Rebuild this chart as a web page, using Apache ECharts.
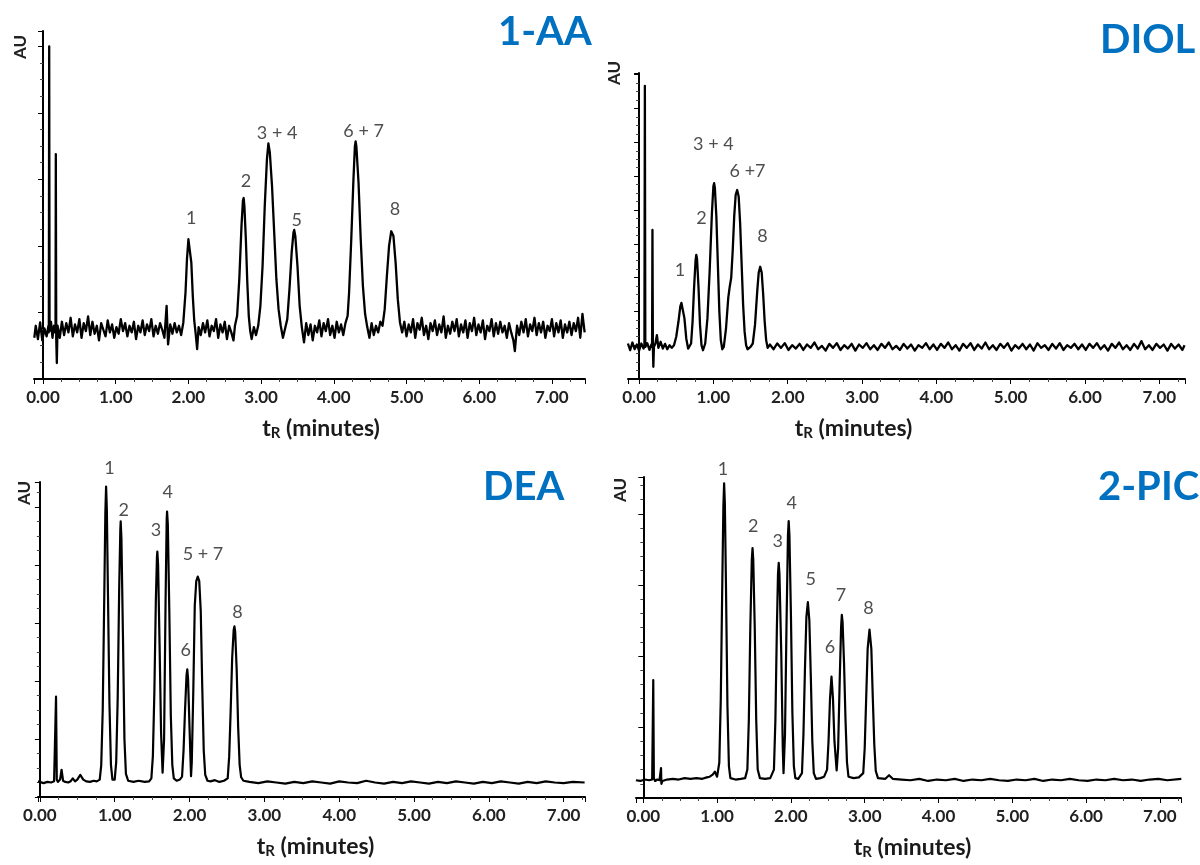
<!DOCTYPE html>
<html>
<head>
<meta charset="utf-8">
<script src="https://cdn.jsdelivr.net/npm/echarts@6/dist/echarts.min.js"></script>
<style>html,body{margin:0;padding:0;background:#fff}#c{width:1200px;height:865px}</style>
</head>
<body>
<div id="c"></div>
<script>
// ---------- DATA ----------
const panelTitles = ['1-AA', 'DIOL', 'DEA', '2-PIC'];
const yAxisName = 'AU';
const xAxisTitle = ['t', 'R', ' (minutes)'];

// 1-AA chromatogram: [time (min), signal (AU divisions)]
const aaTrace = [
[-0.12,0.62],[-0.10,0.80],[-0.07,0.60],[-0.04,0.85],[-0.01,0.58],[0.02,0.76],[0.05,0.64],[0.075,0.80],
[0.08,0.70],[0.085,5.00],[0.09,0.72],
[0.11,0.86],[0.13,0.62],[0.15,0.80],[0.165,0.70],
[0.172,0.78],[0.176,3.38],[0.182,0.60],[0.19,0.24],[0.20,0.80],
[0.23,0.62],[0.26,0.86],[0.29,0.66],[0.32,0.84],[0.35,0.70],[0.38,0.92],[0.41,0.64],[0.44,0.82],[0.47,0.70],[0.50,0.90],
[0.53,0.62],[0.56,0.84],[0.59,0.72],[0.62,0.94],[0.65,0.66],[0.68,0.86],[0.71,0.68],[0.74,0.80],[0.77,0.58],[0.80,0.84],
[0.83,0.74],[0.86,0.64],[0.89,0.88],[0.92,0.70],[0.95,0.82],[0.98,0.62],[1.01,0.78],[1.04,0.68],[1.07,0.90],[1.10,0.72],
[1.13,0.84],[1.16,0.64],[1.19,0.80],[1.22,0.70],[1.25,0.86],[1.28,0.60],[1.31,0.80],[1.34,0.70],[1.37,0.88],[1.40,0.66],
[1.43,0.82],[1.46,0.72],[1.49,0.90],[1.52,0.64],[1.55,0.80],[1.58,0.68],[1.61,0.84],[1.64,0.74],[1.67,0.62],[1.70,1.10],
[1.72,0.52],[1.75,0.82],[1.78,0.68],[1.81,0.84],[1.84,0.70],[1.87,0.80],
[1.90,0.66],[1.93,0.85],[1.96,1.30],[1.98,1.80],[2.00,2.10],[2.01,2.13],[2.02,2.08],[2.04,1.75],[2.06,1.25],[2.08,0.88],[2.10,0.68],[2.12,0.45],[2.14,0.78],
[2.17,0.66],[2.20,0.84],[2.23,0.70],[2.26,0.88],[2.29,0.64],[2.32,0.80],[2.35,0.72],[2.38,0.90],[2.41,0.62],[2.44,0.82],
[2.47,0.70],[2.50,0.86],[2.53,0.60],[2.56,0.80],[2.59,0.70],[2.62,0.58],
[2.64,0.80],[2.67,0.95],[2.70,1.50],[2.73,2.30],[2.75,2.68],[2.76,2.72],[2.77,2.60],[2.79,2.10],[2.81,1.45],[2.83,0.95],[2.85,0.72],[2.87,0.60],[2.90,0.78],[2.93,0.66],
[2.96,0.80],[2.99,1.10],[3.02,1.70],[3.05,2.60],[3.08,3.30],[3.10,3.54],[3.12,3.40],[3.15,2.90],[3.18,2.20],[3.21,1.50],[3.24,1.05],[3.27,0.80],[3.30,0.62],[3.33,0.76],
[3.36,0.90],[3.39,1.35],[3.42,1.90],[3.445,2.20],[3.455,2.24],[3.47,2.15],[3.50,1.70],[3.53,1.10],[3.56,0.78],[3.59,0.55],[3.62,0.84],
[3.65,0.66],[3.68,0.82],[3.71,0.58],[3.74,0.80],[3.77,0.70],[3.80,0.88],[3.83,0.64],[3.86,0.84],[3.89,0.72],[3.92,0.90],
[3.95,0.66],[3.98,0.80],[4.01,0.62],[4.04,0.86],[4.07,0.70],[4.10,0.82],[4.13,0.66],[4.16,0.84],
[4.19,0.95],[4.21,1.30],[4.24,2.10],[4.27,3.00],[4.29,3.50],[4.30,3.57],[4.31,3.50],[4.34,2.95],[4.37,2.10],[4.40,1.40],[4.43,0.98],[4.46,0.78],[4.49,0.62],
[4.52,0.84],[4.55,0.66],[4.58,0.80],[4.61,0.70],[4.64,0.86],
[4.67,0.80],[4.70,1.05],[4.73,1.55],[4.76,2.00],[4.79,2.22],[4.80,2.24],[4.82,2.15],[4.85,1.75],[4.88,1.20],[4.91,0.85],[4.94,0.70],
[4.97,0.86],[5.00,0.64],[5.03,0.82],[5.06,0.70],[5.09,0.90],[5.12,0.62],[5.15,0.84],[5.18,0.74],[5.21,0.92],[5.24,0.66],
[5.27,0.80],[5.30,0.60],[5.33,0.84],[5.36,0.72],[5.39,0.88],[5.42,0.66],[5.45,0.82],[5.48,0.70],[5.51,0.94],[5.54,0.62],
[5.57,0.80],[5.60,0.68],[5.63,0.86],[5.66,0.72],[5.69,0.90],[5.72,0.64],[5.75,0.82],[5.78,0.70],[5.81,0.88],[5.84,0.62],
[5.87,0.84],[5.90,0.72],[5.93,0.92],[5.96,0.66],[5.99,0.82],[6.02,0.70],[6.05,0.88],[6.08,0.60],[6.11,0.80],[6.14,0.72],
[6.17,0.90],[6.20,0.64],[6.23,0.84],[6.26,0.68],[6.29,0.86],[6.32,0.70],[6.35,0.80],[6.38,0.62],[6.41,0.84],[6.44,0.70],
[6.47,0.58],[6.49,0.42],[6.52,0.80],[6.55,0.66],[6.58,0.86],[6.61,0.70],[6.64,0.90],[6.67,0.64],[6.70,0.82],[6.73,0.72],
[6.76,0.92],[6.79,0.66],[6.82,0.84],[6.85,0.70],[6.88,0.86],[6.91,0.62],[6.94,0.80],[6.97,0.72],[7.00,0.90],[7.03,0.64],
[7.06,0.84],[7.09,0.70],[7.12,0.88],[7.15,0.62],[7.18,0.82],[7.21,0.70],[7.24,0.86],[7.27,0.66],[7.30,0.84],[7.33,0.72],
[7.36,0.92],[7.39,0.62],[7.42,0.98],[7.45,0.70]
];
const aaPeakLabels = [['1',2.04,2.42],['2',2.79,2.98],['3 + 4',3.22,3.69],['5',3.49,2.39],['6 + 7',4.41,3.73],['8',4.84,2.55]];

// DIOL chromatogram
const diolTrace = [
[-0.15,1.05],[-0.12,0.85],[-0.09,1.08],[-0.06,0.88],[-0.03,1.02],[0.00,0.84],[0.03,1.05],[0.06,0.90],
[0.072,0.98],[0.078,8.67],[0.084,0.95],
[0.11,1.06],[0.14,0.86],[0.165,1.02],
[0.175,0.95],[0.18,4.41],[0.186,0.95],[0.192,0.36],[0.20,0.95],
[0.22,1.05],[0.24,1.30],[0.26,0.92],[0.29,1.10],[0.32,0.90],[0.35,1.04],[0.38,0.88],[0.41,1.00],[0.44,0.92],
[0.47,1.00],[0.50,1.25],[0.53,1.70],[0.555,2.15],[0.57,2.25],[0.58,2.29],[0.595,2.20],[0.61,1.80],[0.635,1.20],[0.66,0.90],[0.68,0.88],
[0.70,1.05],[0.72,1.70],[0.74,2.70],[0.76,3.50],[0.77,3.67],[0.78,3.55],[0.80,2.70],[0.82,1.60],[0.84,1.00],[0.86,0.85],
[0.89,1.05],[0.92,1.80],[0.95,3.20],[0.98,4.90],[1.00,5.70],[1.01,5.79],[1.02,5.65],[1.04,4.80],[1.06,3.40],[1.08,2.00],[1.10,1.15],[1.12,0.88],
[1.14,0.95],[1.17,1.50],[1.20,2.40],[1.22,2.73],[1.24,3.00],[1.26,3.80],[1.28,4.80],[1.30,5.45],[1.32,5.59],[1.34,5.40],[1.36,4.60],[1.38,3.40],[1.40,2.20],[1.42,1.40],[1.44,1.00],[1.46,0.88],[1.50,0.95],
[1.53,1.05],[1.56,1.60],[1.59,2.60],[1.61,3.15],[1.63,3.32],[1.65,3.15],[1.67,2.50],[1.69,1.70],[1.71,1.15],[1.73,0.92],
[1.76,1.02],[1.81,0.88],[1.86,1.05],[1.91,0.92],[1.96,1.06],[2.01,0.86],[2.06,1.00],[2.11,0.90],[2.16,1.04],[2.21,0.86],
[2.26,1.02],[2.31,0.92],[2.36,1.08],[2.41,0.88],[2.46,0.98],[2.51,0.84],[2.56,1.04],[2.61,0.92],[2.66,1.06],[2.71,0.86],
[2.76,1.00],[2.81,0.90],[2.86,1.04],[2.91,0.84],[2.96,1.02],[3.01,0.92],[3.06,1.06],[3.11,0.88],[3.16,1.00],[3.21,0.86],
[3.26,1.04],[3.31,0.92],[3.36,1.08],[3.41,0.88],[3.46,0.98],[3.51,0.86],[3.56,1.04],[3.61,0.90],[3.66,1.02],[3.71,0.84],
[3.76,1.00],[3.81,0.92],[3.86,1.06],[3.91,0.88],[3.96,1.02],[4.01,0.86],[4.06,1.04],[4.11,0.92],[4.16,1.08],[4.21,0.88],
[4.26,1.00],[4.31,0.84],[4.36,1.04],[4.41,0.92],[4.46,1.06],[4.51,0.86],[4.56,1.02],[4.61,0.90],[4.66,1.08],[4.71,0.88],
[4.76,1.00],[4.81,0.86],[4.86,1.04],[4.91,0.92],[4.96,1.06],[5.01,0.84],[5.06,1.00],[5.11,0.90],[5.16,1.04],[5.21,0.88],
[5.26,1.02],[5.31,0.84],[5.36,1.06],[5.41,0.92],[5.46,1.00],[5.51,0.86],[5.56,1.04],[5.61,0.90],[5.66,1.06],[5.71,0.86],
[5.76,1.00],[5.81,0.92],[5.86,1.04],[5.91,0.88],[5.96,1.02],[6.01,0.86],[6.06,1.04],[6.11,0.92],[6.16,1.06],[6.21,0.88],
[6.26,1.00],[6.31,0.84],[6.36,1.04],[6.41,0.92],[6.46,1.08],[6.51,0.88],[6.56,1.00],[6.61,0.86],[6.66,1.04],[6.71,0.90],
[6.76,1.12],[6.81,0.88],[6.86,1.00],[6.91,0.86],[6.96,1.04],[7.01,0.92],[7.06,1.02],[7.11,0.84],[7.16,1.04],[7.21,0.90],
[7.26,1.02],[7.31,0.86],[7.34,1.00]
];
const diolPeakLabels = [['1',0.55,3.22],['2',0.84,4.75],['3 + 4',1.00,6.95],['6 +7',1.46,6.16],['8',1.66,4.21]];

// DEA chromatogram
const deaTrace = [
[-0.025,0.27],[0.05,0.24],[0.10,0.26],[0.15,0.25],[0.19,0.27],
[0.205,0.30],[0.216,1.73],[0.226,0.30],[0.24,0.26],
[0.27,0.30],[0.29,0.47],[0.31,0.28],[0.34,0.26],[0.38,0.25],[0.41,0.27],[0.44,0.32],[0.47,0.27],[0.50,0.30],[0.54,0.38],
[0.58,0.30],[0.62,0.27],[0.67,0.26],[0.72,0.28],[0.76,0.27],
[0.80,0.30],[0.82,0.55],[0.84,1.50],[0.86,3.40],[0.875,4.90],[0.885,5.35],[0.895,4.95],[0.91,3.50],[0.93,1.60],[0.95,0.55],[0.97,0.30],
[1.00,0.30],[1.02,0.60],[1.04,1.70],[1.06,3.60],[1.075,4.60],[1.08,4.75],[1.09,4.45],[1.11,2.80],[1.13,1.00],[1.15,0.40],[1.18,0.28],
[1.25,0.26],[1.32,0.28],[1.40,0.26],[1.46,0.27],
[1.49,0.32],[1.51,0.70],[1.53,1.80],[1.55,3.40],[1.565,4.15],[1.57,4.23],[1.58,4.00],[1.60,2.60],[1.62,1.10],[1.64,0.42],
[1.66,1.00],[1.68,3.40],[1.695,4.80],[1.70,4.92],[1.71,4.70],[1.73,3.20],[1.75,1.40],[1.77,0.55],[1.79,0.32],
[1.83,0.28],[1.87,0.30],
[1.90,0.35],[1.92,0.80],[1.94,1.50],[1.96,2.10],[1.97,2.20],[1.98,2.05],[2.00,1.20],[2.02,0.36],
[2.03,0.60],[2.05,1.80],[2.07,3.30],[2.09,3.72],[2.11,3.80],[2.13,3.72],[2.15,3.20],[2.17,1.90],[2.19,0.80],[2.21,0.38],[2.24,0.28],
[2.28,0.27],[2.34,0.29],[2.40,0.26],[2.46,0.28],
[2.51,0.32],[2.53,0.70],[2.55,1.50],[2.57,2.40],[2.59,2.88],[2.60,2.94],[2.61,2.85],[2.63,2.20],[2.65,1.20],[2.67,0.55],[2.69,0.34],[2.72,0.28],
[2.80,0.26],[2.92,0.24],[3.04,0.27],[3.16,0.25],[3.28,0.23],[3.40,0.26],[3.52,0.24],[3.64,0.27],[3.76,0.25],[3.88,0.23],
[4.00,0.27],[4.12,0.25],[4.24,0.24],[4.36,0.28],[4.48,0.25],[4.60,0.23],[4.72,0.26],[4.84,0.24],[4.96,0.27],[5.08,0.25],
[5.20,0.23],[5.32,0.26],[5.44,0.24],[5.56,0.27],[5.68,0.25],[5.80,0.23],[5.92,0.26],[6.04,0.24],[6.16,0.27],[6.28,0.25],
[6.40,0.23],[6.52,0.26],[6.64,0.24],[6.76,0.27],[6.88,0.25],[7.00,0.24],[7.12,0.26],[7.28,0.25]
];
const deaPeakLabels = [['1',0.93,5.67],['2',1.12,4.95],['3',1.55,4.60],['4',1.71,5.25],['5 + 7',2.18,4.18],['6',1.95,2.53],['8',2.64,3.18]];

// 2-PIC chromatogram
const picTrace = [
[-0.10,0.25],[-0.04,0.24],[0.02,0.26],[0.08,0.25],[0.12,0.26],
[0.127,0.28],[0.135,1.66],[0.143,0.28],[0.16,0.24],[0.19,0.26],[0.22,0.25],
[0.235,0.26],[0.24,0.42],[0.245,0.20],[0.26,0.24],
[0.32,0.26],[0.40,0.27],[0.48,0.26],[0.56,0.28],[0.64,0.27],[0.72,0.28],[0.80,0.27],[0.86,0.29],[0.90,0.30],
[0.94,0.33],[0.97,0.37],[1.00,0.30],[1.01,0.28],
[1.03,0.50],[1.05,1.40],[1.07,3.00],[1.085,4.10],[1.095,4.43],[1.105,4.15],[1.12,3.00],[1.14,1.30],[1.16,0.45],[1.18,0.28],
[1.25,0.26],[1.32,0.27],[1.38,0.28],
[1.41,0.40],[1.43,1.10],[1.45,2.40],[1.47,3.35],[1.48,3.52],[1.49,3.35],[1.51,2.40],[1.53,1.10],[1.55,0.40],[1.58,0.28],
[1.65,0.27],[1.72,0.28],
[1.77,0.40],[1.79,1.10],[1.81,2.40],[1.825,3.15],[1.835,3.31],[1.845,3.15],[1.87,2.00],[1.89,0.70],[1.90,0.35],
[1.92,0.90],[1.94,2.40],[1.96,3.70],[1.97,3.90],[1.98,3.70],[2.00,2.60],[2.02,1.20],[2.04,0.45],[2.06,0.28],
[2.10,0.27],
[2.15,0.35],[2.17,0.90],[2.19,1.80],[2.21,2.55],[2.23,2.76],[2.25,2.50],[2.27,1.70],[2.29,0.80],[2.31,0.35],[2.34,0.27],
[2.40,0.28],[2.45,0.30],
[2.49,0.40],[2.51,0.80],[2.53,1.40],[2.55,1.71],[2.57,1.40],[2.59,0.80],[2.62,0.39],
[2.64,0.70],[2.66,1.60],[2.68,2.40],[2.69,2.58],[2.70,2.48],[2.72,1.90],[2.74,1.10],[2.76,0.50],[2.78,0.30],
[2.85,0.28],[2.92,0.29],
[2.98,0.35],[3.00,0.70],[3.02,1.40],[3.04,2.10],[3.065,2.37],[3.09,2.10],[3.11,1.40],[3.13,0.75],[3.15,0.38],[3.18,0.28],
[3.28,0.27],[3.33,0.32],[3.38,0.27],
[3.50,0.26],[3.62,0.25],[3.74,0.27],[3.86,0.24],[3.98,0.26],[4.10,0.25],[4.22,0.27],[4.34,0.24],[4.46,0.26],[4.58,0.25],
[4.70,0.27],[4.82,0.25],[4.94,0.24],[5.06,0.26],[5.18,0.25],[5.30,0.27],[5.42,0.24],[5.54,0.26],[5.66,0.25],[5.78,0.27],
[5.90,0.25],[6.02,0.24],[6.14,0.26],[6.26,0.25],[6.38,0.27],[6.50,0.25],[6.62,0.26],[6.74,0.24],[6.86,0.26],[6.98,0.27],
[7.10,0.25],[7.29,0.27]
];
const picPeakLabels = [['1',1.08,4.63],['2',1.49,3.83],['3',1.82,3.61],['4',2.01,4.15],['5',2.27,3.08],['6',2.53,2.12],['7',2.68,2.86],['8',3.05,2.67]];

// ---------- LAYOUT (pixels / styles only) ----------
const traces = [aaTrace, diolTrace, deaTrace, picTrace];
const peakLabels = [aaPeakLabels, diolPeakLabels, deaPeakLabels, picPeakLabels];
const layout = [
  {left:34,  top:31,  width:551, height:348, xMin:-0.124, xMax:7.455, yMax:5.23, ySplit:4, namePad:[0,0,0,23],  au:[21,47],   title:[498,12],  lw:2.3},
  {left:628, top:73,  width:557, height:306, xMin:-0.149, xMax:7.346, yMax:9.05, ySplit:4, namePad:[0,106,0,0], au:[615,73],  title:[1100,20], lw:2.3},
  {left:38,  top:482, width:547, height:315, xMin:-0.025, xMax:7.285, yMax:5.43, ySplit:4, namePad:[0,0,0,8],   au:[25,493],  title:[483,467], lw:2.2},
  {left:636, top:477, width:545, height:321, xMin:-0.099, xMax:7.286, yMax:4.52, ySplit:5, namePad:[0,0,0,8],   au:[621,490], title:[1098,467],lw:2.2}
];
const FONT = 'Lato, "Open Sans", sans-serif';

const option = {
  animation: false,
  backgroundColor: '#fff',
  title: layout.map((L, i) => ({
    text: panelTitles[i], left: L.title[0], top: L.title[1], padding: 0,
    textStyle: {fontFamily: FONT, fontSize: 40, fontWeight: 'bold', color: '#0070C0'}
  })),
  grid: layout.map(L => ({left: L.left, top: L.top, width: L.width, height: L.height, containLabel: false})),
  xAxis: layout.map((L, i) => ({
    type: 'value', gridIndex: i, min: L.xMin, max: L.xMax, splitNumber: 7, minInterval: 1, maxInterval: 1,
    axisLine: {show: true, onZero: false, lineStyle: {color: '#000', width: 2}},
    axisTick: {show: true, length: 5, lineStyle: {color: '#000', width: 1}},
    minorTick: {show: true, splitNumber: 4, length: 3, lineStyle: {color: '#444', width: 1}},
    splitLine: {show: false},
    axisLabel: {show: true, margin: 10, showMinLabel: false, showMaxLabel: false,
      formatter: v => v.toFixed(2), fontFamily: FONT, fontSize: 17, fontWeight: 'bold', color: '#222'},
    name: '{a|' + xAxisTitle[0] + '}{b|' + xAxisTitle[1] + '}{a|' + xAxisTitle[2] + '}',
    nameLocation: 'middle', nameGap: 38,
    nameTextStyle: {padding: L.namePad, rich: {
      a: {fontFamily: FONT, fontSize: 23, fontWeight: 'bold', color: '#1a1a1a', lineHeight: 24, verticalAlign: 'top'},
      b: {fontFamily: FONT, fontSize: 15, fontWeight: 'bold', color: '#1a1a1a', lineHeight: 14, padding: [14, 0, 0, 0], verticalAlign: 'bottom'}
    }}
  })),
  yAxis: layout.map((L, i) => ({
    type: 'value', gridIndex: i, min: 0, max: L.yMax, interval: 1,
    axisLine: {show: true, lineStyle: {color: '#000', width: 2}},
    axisTick: {show: true, length: 5, lineStyle: {color: '#000', width: 1}},
    minorTick: {show: true, splitNumber: L.ySplit, length: 3, lineStyle: {color: '#444', width: 1}},
    splitLine: {show: false},
    axisLabel: {show: false}
  })),
  graphic: layout.map(L => ({
    type: 'text', x: L.au[0], y: L.au[1], rotation: Math.PI / 2,
    style: {text: yAxisName, fontFamily: FONT, fontSize: 17, fontWeight: 'bold', fill: '#222', align: 'center', verticalAlign: 'middle'}
  })),
  series: [
    ...traces.map((d, i) => ({
      type: 'line', xAxisIndex: i, yAxisIndex: i, data: d, showSymbol: false, symbol: 'none',
      lineStyle: {color: '#000', width: layout[i].lw, join: 'round'}, smooth: false, sampling: null, clip: true, silent: true, z: 3
    })),
    ...peakLabels.map((labs, i) => ({
      type: 'scatter', xAxisIndex: i, yAxisIndex: i, symbolSize: 1, silent: true, z: 5, clip: false,
      itemStyle: {color: 'rgba(0,0,0,0)'},
      data: labs.map(l => [l[1], l[2], l[0]]),
      label: {show: true, position: 'inside', formatter: p => p.value[2],
        fontFamily: FONT, fontSize: 18, color: '#222'}
    }))
  ]
};

const chart = echarts.init(document.getElementById('c'), null, {renderer: 'canvas'});
chart.setOption(option);
</script>
</body>
</html>
